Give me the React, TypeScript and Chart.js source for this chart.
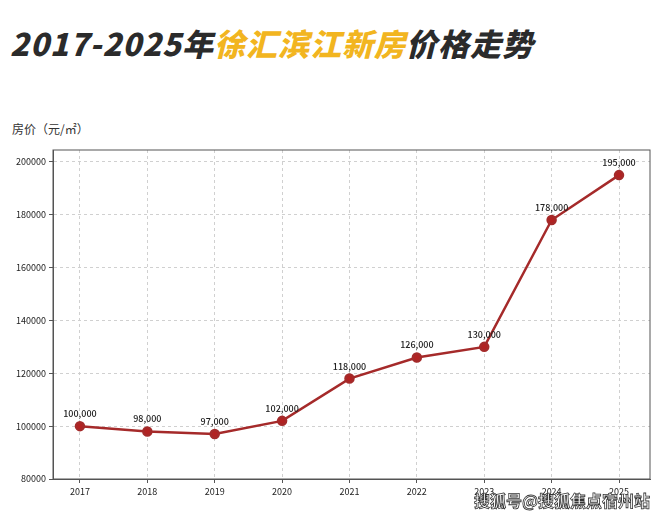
import React, { useEffect, useRef } from "react";
import { Chart, registerables } from "chart.js";
Chart.register(...registerables);

const years = [2017, 2018, 2019, 2020, 2021, 2022, 2023, 2024, 2025];
const prices = [100000, 98000, 97000, 102000, 118000, 126000, 130000, 178000, 195000];
const yTicks = [80000, 100000, 120000, 140000, 160000, 180000, 200000];

const labelPlugin = {
  id: "pointLabels",
  afterDatasetsDraw(chart: any) {
    const ctx = chart.ctx;
    const meta = chart.getDatasetMeta(0);
    ctx.save();
    ctx.font = "500 9px 'Noto Sans CJK SC', sans-serif";
    ctx.fillStyle = "#222";
    ctx.textAlign = "center";
    ctx.textBaseline = "bottom";
    meta.data.forEach((p: any, i: number) => {
      ctx.fillText(prices[i].toLocaleString("en-US"), p.x, p.y - 8);
    });
    ctx.restore();
  },
};

export default function App() {
  const ref = useRef<HTMLCanvasElement>(null);
  useEffect(() => {
    document.body.style.margin = "0";
    const chart = new Chart(ref.current!, {
      type: "line",
      data: {
        datasets: [
          {
            data: years.map((y, i) => ({ x: y, y: prices[i] })),
            borderColor: "#a52a2a",
            backgroundColor: "#b22222",
            borderWidth: 2.5,
            pointRadius: 4,
            pointHoverRadius: 4,
            tension: 0,
          },
        ],
      },
      options: {
        animation: false,
        responsive: false,
        layout: { padding: { top: 10, right: 10, left: 0, bottom: 0 } },
        plugins: { legend: { display: false }, tooltip: { enabled: false } },
        scales: {
          x: {
            type: "linear",
            min: 2016.6,
            max: 2025.46,
            afterBuildTicks: (s: any) => { s.ticks = years.map((v) => ({ value: v })); },
            afterFit: (s: any) => { s.height = 38; },
            ticks: { font: { size: 9, family: "'Noto Sans CJK SC', sans-serif" }, color: "#222", callback: (v: any) => String(v) },
            grid: { color: "#d0d0d0", tickLength: 4, tickColor: "#555" },
            border: { color: "#555", dash: [3, 3] },
          },
          y: {
            min: 80000,
            max: 204500,
            afterBuildTicks: (s: any) => { s.ticks = yTicks.map((v) => ({ value: v })); },
            afterFit: (s: any) => { s.width = 53; },
            ticks: { font: { size: 9, family: "'Noto Sans CJK SC', sans-serif" }, color: "#222", callback: (v: any) => String(v) },
            grid: { color: "#d0d0d0", tickLength: 4, tickColor: "#555" },
            border: { color: "#555", dash: [3, 3] },
          },
        },
      },
      plugins: [
        labelPlugin,
        {
          id: "frame",
          afterDraw(c: any) {
            const { ctx, chartArea: a } = c;
            ctx.save();
            ctx.strokeStyle = "#555";
            ctx.lineWidth = 1;
            ctx.setLineDash([]);
            ctx.strokeRect(a.left, a.top, a.right - a.left, a.bottom - a.top);
            ctx.restore();
          },
        },
      ],
    } as any);
    return () => chart.destroy();
  }, []);
  return (
    <div style={{ position: "relative", width: 660, height: 517, background: "#fff", overflow: "hidden" }}>
      <div style={{ position: "absolute", left: 10, top: 20, fontSize: 31, fontWeight: 900, letterSpacing: 1, fontFamily: "'Noto Sans CJK SC', sans-serif", color: "#2b2b2b", fontStyle: "italic", whiteSpace: "nowrap" }}>
        2017-2025年<span style={{ color: "#f2b520" }}>徐汇滨江新房</span>价格走势
      </div>
      <div style={{ position: "absolute", left: 12, top: 120, fontSize: 12, fontFamily: "'Noto Sans CJK SC', sans-serif", color: "#333" }}>
        房价（元/㎡）
      </div>
      <canvas ref={ref} width={660} height={377} style={{ position: "absolute", left: 0, top: 140 }} />
      <div style={{ position: "absolute", left: 474, top: 488, fontSize: 16, fontWeight: 700, fontFamily: "'Noto Sans CJK SC', sans-serif", color: "#fff", WebkitTextStroke: "0.8px #333" }}>
        搜狐号@搜狐焦点宿州站
      </div>
    </div>
  );
}
